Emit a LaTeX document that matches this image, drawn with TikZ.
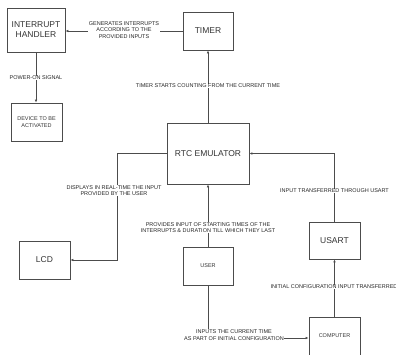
\documentclass[tikz,border=0pt]{standalone}
\usepackage{fontspec}
\setmainfont{Liberation Sans}
\usetikzlibrary{arrows.meta}
\begin{document}
\begin{tikzpicture}[x=1pt,y=-1pt,
  box/.style={draw=black!70, line width=0.8pt, minimum width=#1, inner sep=0pt, align=center, font=\fontsize{8.5}{10}\selectfont, text=black!80},
  sbox/.style={draw=black!70, line width=0.8pt, minimum width=#1, inner sep=0pt, align=center, font=\fontsize{5.5}{6.5}\selectfont, text=black!80},
  conn/.style={draw=black!70, line width=0.8pt, -{Latex[length=3pt,width=2.6pt]}},
  lbl/.style={fill=white, inner sep=0.5pt, align=center, font=\fontsize{5.5}{6.2}\selectfont, text=black!85}
]
\useasboundingbox[fill=white] (0,0) rectangle (396,354);
% boxes
\node[box=58pt, minimum height=44pt] (handler) at (36,30) {INTERRUPT\\HANDLER};
\node[box=50pt, minimum height=38pt] (timer) at (208,31) {TIMER};
\node[sbox=51pt, minimum height=38pt] (device) at (36.5,122) {DEVICE TO BE\\ACTIVATED};
\node[box=82pt, minimum height=61pt] (rtc) at (208,153.5) {RTC EMULATOR};
\node[box=51pt, minimum height=38pt] (lcd) at (44.5,260) {LCD};
\node[sbox=50pt, minimum height=38pt] (user) at (208,266) {USER};
\node[box=51pt, minimum height=37pt] (usart) at (334.5,240.5) {USART};
\node[sbox=51pt, minimum height=38pt] (computer) at (334.5,336) {COMPUTER};
\coordinate (lcdturn) at (117,153.5);
\coordinate (usrturn) at (208,338);
% connectors
\draw[conn] (timer.west) -- (timer.west -| handler.east);
\node[lbl] (l1) at (124,30) {GENERATES INTERRUPTS\\ACCORDING TO THE\\PROVIDED INPUTS};
\draw[conn] (handler.south -| 36,0) -- (device.north -| 36,0);
\node[lbl] (l2) at (36,78) {POWER-ON SIGNAL};
\draw[conn] (rtc.north) -- (timer.south);
\node[lbl] (l3) at (208,86) {TIMER STARTS COUNTING FROM THE CURRENT TIME};
\draw[conn] (usart.north) |- (rtc.east);
\node[lbl] (l4) at (334.5,191) {INPUT TRANSFERRED THROUGH USART};
\draw[conn] (user.north) -- (rtc.south);
\node[lbl] (l5) at (208,227.5) {PROVIDES INPUT OF STARTING TIMES OF THE\\INTERRUPTS \& DURATION TILL WHICH THEY LAST};
\draw[conn] (rtc.west) -- (lcdturn) |- (lcd.east);
\node[lbl] (l6) at (114,190.5) {DISPLAYS IN REAL-TIME THE INPUT\\PROVIDED BY THE USER};
\draw[conn] (user.south) -- (usrturn) -- (usrturn -| computer.west);
\node[lbl] (l7) at (234,335) {INPUTS THE CURRENT TIME\\AS PART OF INITIAL CONFIGURATION};
\draw[conn] (computer.north) -- (usart.south);
\node[lbl, anchor=west] (l8) at (270,287) {INITIAL CONFIGURATION INPUT TRANSFERRED};
\end{tikzpicture}
\end{document}
